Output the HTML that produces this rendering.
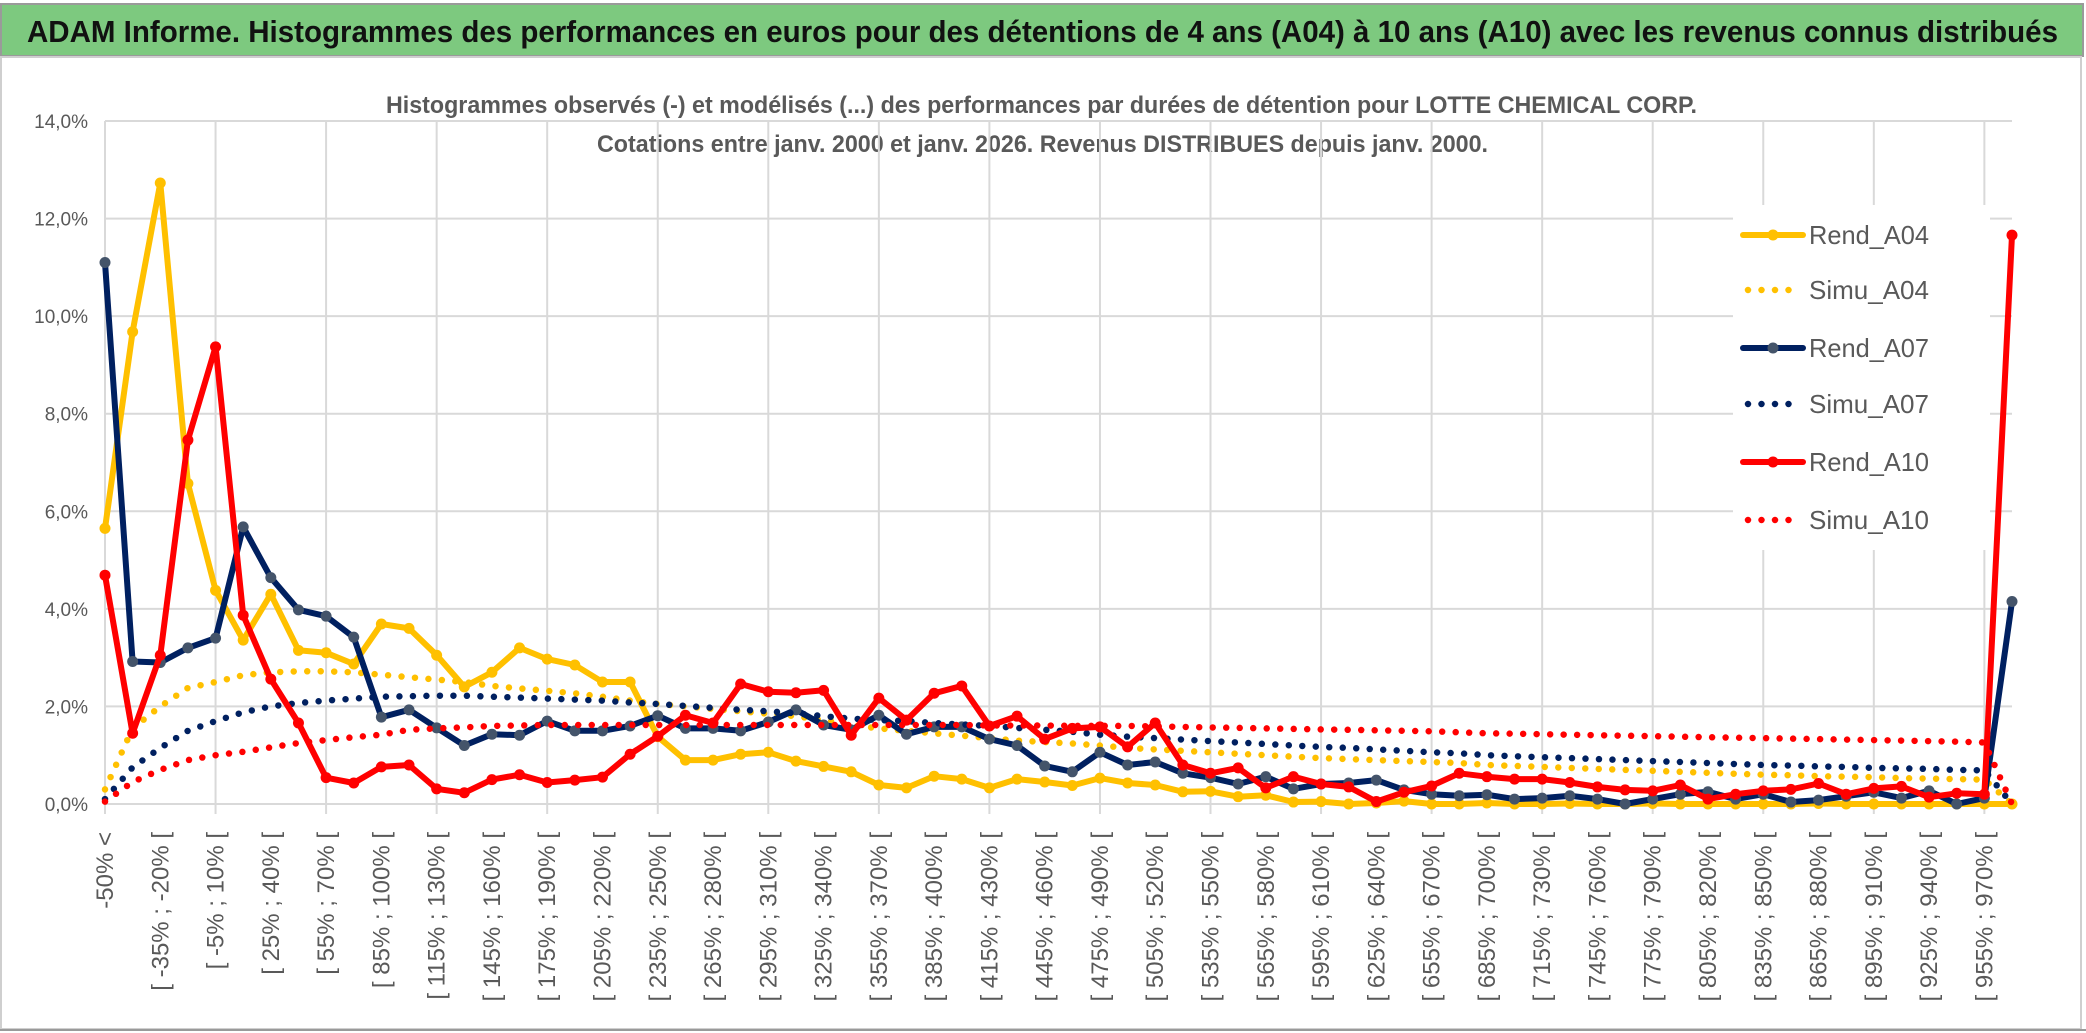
<!DOCTYPE html>
<html><head><meta charset="utf-8">
<style>
html,body{margin:0;padding:0;background:#fff;}
svg{display:block;font-family:"Liberation Sans",sans-serif;}
</style></head>
<body>
<svg id="chart" width="2086" height="1033" viewBox="0 0 2086 1033" xmlns="http://www.w3.org/2000/svg">
  <rect x="0" y="0" width="2086" height="1033" fill="#fff"/>
  <rect x="1" y="4" width="2082" height="52" fill="#7dc97f" stroke="#9a9a9a" stroke-width="2"/>
  <text x="27" y="42" font-size="31" font-weight="bold" fill="#111" textLength="2031" lengthAdjust="spacingAndGlyphs">ADAM Informe. Histogrammes des performances en euros pour des détentions de 4 ans (A04) à 10 ans (A10) avec les revenus connus distribués</text>
  <rect x="1" y="57" width="2080" height="972" fill="none" stroke="#cfcfcf" stroke-width="2"/>
  <line x1="0" y1="1030" x2="2086" y2="1030" stroke="#9a9a9a" stroke-width="2"/>
  <text x="386" y="113" font-size="24" font-weight="bold" fill="#595959" textLength="1311" lengthAdjust="spacingAndGlyphs">Histogrammes observés (-) et modélisés (...) des performances par durées de détention pour LOTTE CHEMICAL CORP.</text>
  <text x="597" y="152" font-size="24" font-weight="bold" fill="#595959" textLength="891" lengthAdjust="spacingAndGlyphs">Cotations entre janv. 2000 et janv. 2026. Revenus DISTRIBUES depuis janv. 2000.</text>
  <g id="grid"></g>
  <g id="yaxis"></g>
  <g id="xaxis"></g>
  <g id="series"></g>
  <g id="legend"></g>
</svg>
<script>
const categories = ["-50% <","[ -50% ; -35% [","[ -35% ; -20% [","[ -20% ; -5% [","[ -5% ; 10% [","[ 10% ; 25% [","[ 25% ; 40% [","[ 40% ; 55% [","[ 55% ; 70% [","[ 70% ; 85% [","[ 85% ; 100% [","[ 100% ; 115% [","[ 115% ; 130% [","[ 130% ; 145% [","[ 145% ; 160% [","[ 160% ; 175% [","[ 175% ; 190% [","[ 190% ; 205% [","[ 205% ; 220% [","[ 220% ; 235% [","[ 235% ; 250% [","[ 250% ; 265% [","[ 265% ; 280% [","[ 280% ; 295% [","[ 295% ; 310% [","[ 310% ; 325% [","[ 325% ; 340% [","[ 340% ; 355% [","[ 355% ; 370% [","[ 370% ; 385% [","[ 385% ; 400% [","[ 400% ; 415% [","[ 415% ; 430% [","[ 430% ; 445% [","[ 445% ; 460% [","[ 460% ; 475% [","[ 475% ; 490% [","[ 490% ; 505% [","[ 505% ; 520% [","[ 520% ; 535% [","[ 535% ; 550% [","[ 550% ; 565% [","[ 565% ; 580% [","[ 580% ; 595% [","[ 595% ; 610% [","[ 610% ; 625% [","[ 625% ; 640% [","[ 640% ; 655% [","[ 655% ; 670% [","[ 670% ; 685% [","[ 685% ; 700% [","[ 700% ; 715% [","[ 715% ; 730% [","[ 730% ; 745% [","[ 745% ; 760% [","[ 760% ; 775% [","[ 775% ; 790% [","[ 790% ; 805% [","[ 805% ; 820% [","[ 820% ; 835% [","[ 835% ; 850% [","[ 850% ; 865% [","[ 865% ; 880% [","[ 880% ; 895% [","[ 895% ; 910% [","[ 910% ; 925% [","[ 925% ; 940% [","[ 940% ; 955% [","[ 955% ; 970% [","> 970%"];
const yTicks = [0,2,4,6,8,10,12,14];
const yTickLabels = ["0,0%","2,0%","4,0%","6,0%","8,0%","10,0%","12,0%","14,0%"];
const rendA04 = [5.65,9.68,12.73,6.57,4.38,3.36,4.3,3.15,3.1,2.87, 3.69,3.6,3.05,2.4,2.7,3.2,2.97,2.85,2.5,2.5, 1.38,0.9,0.9,1.02,1.06,0.88,0.77,0.66,0.39,0.33, 0.57,0.51,0.33,0.51,0.45,0.38,0.53,0.43,0.39,0.25, 0.26,0.15,0.18,0.04,0.05,0,0.02,0.06,0,0, 0.02,0,0,0.01,0,0,0.01,0,0,0, 0,0,0.01,0,0,0,0,0,0,0];
const simuA04 = [0.3,1.55,2.0,2.38,2.5,2.64,2.7,2.72,2.72,2.7, 2.65,2.6,2.55,2.5,2.42,2.37,2.32,2.27,2.2,2.12, 2.05,2.0,1.95,1.9,1.85,1.8,1.72,1.62,1.55,1.5, 1.45,1.4,1.35,1.3,1.27,1.24,1.2,1.15,1.12,1.09, 1.06,1.03,1.0,0.97,0.94,0.92,0.9,0.88,0.86,0.84, 0.8,0.78,0.76,0.74,0.72,0.7,0.68,0.66,0.64,0.62, 0.6,0.59,0.57,0.56,0.55,0.53,0.52,0.51,0.5,0];
const rendA07 = [11.1,2.92,2.9,3.2,3.4,5.68,4.64,3.98,3.85,3.42, 1.78,1.93,1.56,1.2,1.43,1.41,1.7,1.5,1.5,1.6, 1.81,1.55,1.55,1.5,1.68,1.93,1.62,1.52,1.82,1.43, 1.58,1.58,1.33,1.2,0.78,0.66,1.06,0.8,0.86,0.63, 0.54,0.41,0.56,0.31,0.41,0.43,0.49,0.29,0.2,0.17, 0.19,0.1,0.12,0.17,0.1,0,0.1,0.2,0.25,0.1, 0.2,0.04,0.08,0.16,0.24,0.12,0.27,0,0.12,4.15];
const simuA07 = [0.1,0.75,1.15,1.5,1.7,1.88,2.0,2.07,2.12,2.16, 2.2,2.21,2.22,2.22,2.2,2.18,2.16,2.14,2.12,2.08, 2.05,2.01,1.97,1.93,1.9,1.86,1.8,1.75,1.72,1.7, 1.66,1.63,1.6,1.56,1.52,1.48,1.42,1.38,1.35,1.32, 1.29,1.26,1.23,1.2,1.17,1.15,1.12,1.09,1.06,1.04, 1.0,0.98,0.96,0.94,0.92,0.9,0.88,0.86,0.84,0.82, 0.8,0.79,0.77,0.76,0.74,0.73,0.72,0.7,0.69,0];
const rendA10 = [4.69,1.45,3.05,7.46,9.37,3.87,2.56,1.66,0.54,0.43, 0.76,0.8,0.31,0.23,0.5,0.6,0.44,0.49,0.55,1.02, 1.39,1.82,1.66,2.46,2.3,2.28,2.33,1.41,2.17,1.72, 2.27,2.42,1.6,1.8,1.33,1.55,1.58,1.17,1.66,0.8, 0.63,0.74,0.33,0.56,0.41,0.35,0.05,0.24,0.37,0.63, 0.56,0.51,0.51,0.44,0.35,0.29,0.27,0.39,0.1,0.2, 0.27,0.3,0.42,0.2,0.32,0.36,0.14,0.22,0.2,11.66];
const simuA10 = [0.05,0.45,0.7,0.9,1.0,1.07,1.16,1.25,1.31,1.37, 1.42,1.52,1.55,1.57,1.6,1.61,1.62,1.62,1.62,1.62, 1.62,1.62,1.62,1.62,1.62,1.62,1.62,1.62,1.62,1.62, 1.62,1.62,1.61,1.61,1.61,1.6,1.6,1.6,1.59,1.58, 1.57,1.56,1.55,1.54,1.53,1.52,1.51,1.5,1.49,1.47, 1.45,1.44,1.43,1.42,1.41,1.4,1.39,1.38,1.37,1.36, 1.35,1.34,1.33,1.32,1.31,1.3,1.29,1.28,1.26,0];

const NS = "http://www.w3.org/2000/svg";
const X0 = 105, X1 = 2012, Y0 = 804, YTOP = 121, YMAX = 14;
function xScale(i){ return X0 + i * (X1 - X0) / (categories.length - 1); }
function yScale(v){ return Y0 - v * (Y0 - YTOP) / YMAX; }
function mk(tag, attrs, parent){ const e = document.createElementNS(NS, tag); for (const k in attrs) e.setAttribute(k, attrs[k]); parent.appendChild(e); return e; }

const grid = document.getElementById('grid');
yTicks.forEach(function(t){
  const l = mk('line', {x1:X0, x2:X1, y1:yScale(t), y2:yScale(t), stroke:'#d9d9d9', 'stroke-width':2}, grid);
  
  
});
for (let i = 0; i < categories.length; i += 4) {
  const l = mk('line', {x1:xScale(i), x2:xScale(i), y1:YTOP, y2:Y0 + 10, stroke:'#d9d9d9', 'stroke-width':2}, grid);
  
  
}

const yaxis = document.getElementById('yaxis');
yTicks.forEach(function(t, i){
  const tx = mk('text', {x:88, y:yScale(t) + 7, 'text-anchor':'end', 'font-size':19, fill:'#595959'}, yaxis);
  tx.textContent = yTickLabels[i];
  
  
});

const xaxis = document.getElementById('xaxis');
categories.forEach(function(c, i){
  if (i % 2 !== 0) return;
  const x = xScale(i);
  const tx = mk('text', {x:0, y:0, 'text-anchor':'end', 'font-size':24, fill:'#595959', transform:'translate(' + (x + 8) + ',832) rotate(-90)'}, xaxis);
  tx.textContent = c;
  
  
});

const seriesG = document.getElementById('series');
function pts(arr){ return arr.map(function(v, i){ return xScale(i).toFixed(1) + ',' + yScale(v).toFixed(1); }).join(' '); }
function drawRend(arr, color, mcolor, name){
  const g = mk('g', {}, seriesG);
  
  
  const p = mk('polyline', {points:pts(arr), fill:'none', stroke:color, 'stroke-width':6, 'stroke-linejoin':'round', 'stroke-linecap':'round'}, g);
  
  
  arr.forEach(function(v, i){
    const c = mk('circle', {cx:xScale(i), cy:yScale(v), r:5.5, fill:mcolor}, g);
    
    
  });
}
function drawSimu(arr, color, name){
  const p = mk('polyline', {points:pts(arr), fill:'none', stroke:color, 'stroke-width':6.5, 'stroke-linecap':'round', 'stroke-dasharray':'0 13.5'}, seriesG);
  
  
}
drawRend(rendA04, '#FFC000', '#FFC000', 'rend-a04');
drawSimu(simuA04, '#FFC000', 'simu-a04');
drawRend(rendA07, '#002060', '#44546A', 'rend-a07');
drawSimu(simuA07, '#002060', 'simu-a07');
drawRend(rendA10, '#FF0000', '#FF0000', 'rend-a10');
drawSimu(simuA10, '#FF0000', 'simu-a10');

const legend = document.getElementById('legend');
const lb = mk('rect', {x:1733, y:205, width:257, height:345, fill:'#fff'}, legend);


const legendNames = ["Rend_A04","Simu_A04","Rend_A07","Simu_A07","Rend_A10","Simu_A10"];
const legendColors = ["#FFC000","#FFC000","#002060","#002060","#FF0000","#FF0000"];
const legendMarker = ["#FFC000","","#44546A","","#FF0000",""];
const legendY = [235,290,348,404,462,520];
legendNames.forEach(function(n, i){
  const g = mk('g', {}, legend);
  
  
  const y = legendY[i];
  if (legendMarker[i]) {
    mk('line', {x1:1743, x2:1803, y1:y, y2:y, stroke:legendColors[i], 'stroke-width':6, 'stroke-linecap':'round'}, g);
    mk('circle', {cx:1773, cy:y, r:5.5, fill:legendMarker[i]}, g);
  } else {
    mk('line', {x1:1748, x2:1802, y1:y, y2:y, stroke:legendColors[i], 'stroke-width':6.5, 'stroke-linecap':'round', 'stroke-dasharray':'0 13.5'}, g);
  }
  const t = mk('text', {x:1809, y:y + 9, 'font-size':26, fill:'#595959', textLength:120, lengthAdjust:'spacingAndGlyphs'}, g);
  t.textContent = n;
});
</script>
</body></html>
